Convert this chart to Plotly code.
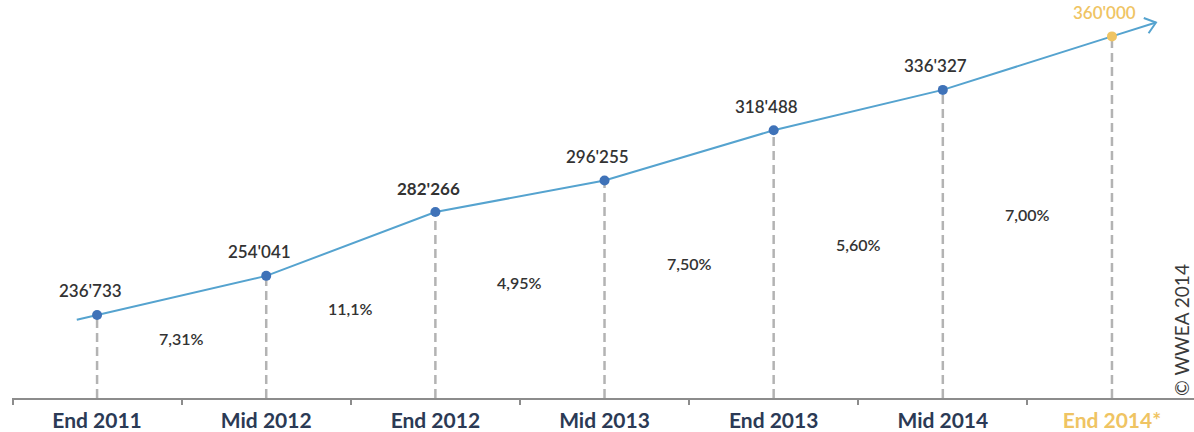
import math
import plotly.graph_objects as go

# Installed wind capacity (MW) at each reporting date
periods = ["End 2011", "Mid 2012", "End 2012", "Mid 2013", "End 2013", "Mid 2014", "End 2014*"]
capacity = [236733, 254041, 282266, 296255, 318488, 336327, 360000]
capacity_labels = ["236'733", "254'041", "282'266", "296'255", "318'488", "336'327", "360'000"]
# Growth rate between consecutive dates
growth_labels = ["7,31%", "11,1%", "4,95%", "7,50%", "5,60%", "7,00%"]
# Vertical placement of growth labels (fraction of plot height)
growth_label_y = [0.12, 0.195, 0.262, 0.337, 0.385, 0.46]

W, H = 1194, 432
M_L, M_R, M_T, M_B = 12, 0, 0, 34
X_RANGE = [-0.503, 6.485]
Y_RANGE = [200000, 376100]

LINE_BLUE = "#55A3CF"
DOT_BLUE = "#3F72B8"
GOLD = "#EFC463"
DASH_GREY = "#B3B3B3"
AXIS_GREY = "#8C8C8C"
TEXT_DARK = "#333333"
NAVY = "#2B3A55"

n = len(periods)
xs = list(range(n))
actual = n - 1  # last value is a forecast

plot_w = W - M_L - M_R
plot_h = H - M_T - M_B
px_per_x = plot_w / (X_RANGE[1] - X_RANGE[0])
px_per_y = plot_h / (Y_RANGE[1] - Y_RANGE[0])

# Trend line extended slightly beyond the first and last points
x_start = xs[0] - 0.12
y_start = capacity[0] - 0.12 * (capacity[1] - capacity[0])
x_end = xs[-1] + 0.26
y_end = capacity[-1] + 0.26 * (capacity[-1] - capacity[-2])

fig = go.Figure()

# Dashed drop lines from each point to the axis
for i in xs:
    fig.add_shape(type="line", x0=i, x1=i, y0=Y_RANGE[0], y1=capacity[i],
                  line=dict(color=DASH_GREY, width=2.5, dash="9px,5px"), layer="below")

fig.add_trace(go.Scatter(
    x=[x_start] + xs + [x_end], y=[y_start] + capacity + [y_end],
    mode="lines", line=dict(color=LINE_BLUE, width=2), hoverinfo="skip", showlegend=False))

# Open chevron arrowhead at the line end
dx_px = (x_end - xs[-1]) * px_per_x
dy_px = (y_end - capacity[-1]) * px_per_y
ang = math.atan2(dy_px, dx_px)
arm = 13
arms = []
for s in (1, -1):
    a = ang + math.pi + s * math.radians(38)
    arms.append((x_end + arm * math.cos(a) / px_per_x, y_end + arm * math.sin(a) / px_per_y))
chev_x = [arms[0][0], x_end, arms[1][0]]
chev_y = [arms[0][1], y_end, arms[1][1]]
fig.add_trace(go.Scatter(x=chev_x, y=chev_y, mode="lines",
                         line=dict(color=LINE_BLUE, width=2), hoverinfo="skip", showlegend=False))

fig.add_trace(go.Scatter(
    x=xs, y=capacity, mode="markers",
    marker=dict(size=10, color=[DOT_BLUE] * actual + [GOLD]),
    hoverinfo="skip", showlegend=False))

# Value labels above each point
for i in xs:
    fig.add_annotation(x=i, y=capacity[i], text=capacity_labels[i], showarrow=False,
                       yshift=24, xshift=-7,
                       font=dict(family="Lato", size=17, color=GOLD if i == actual else TEXT_DARK,
                                 weight="bold" if i == 2 else 600))

# Growth rates between dates
for i, (lab, gy) in enumerate(zip(growth_labels, growth_label_y)):
    fig.add_annotation(x=i + 0.5, y=gy, yref="paper", text=lab, showarrow=False,
                       font=dict(family="Lato", size=16, color=TEXT_DARK, weight=600))

# Copyright mark along the right edge
fig.add_annotation(x=(1181 - M_L) / plot_w, y=1 - 330 / plot_h, xref="paper", yref="paper",
                   xanchor="center", yanchor="middle",
                   text="© WWEA 2014", textangle=-90, showarrow=False,
                   font=dict(family="Lato", size=19, color="#3A3A3A"))

ticktext = [p if i < actual else f'<span style="color:{GOLD}">{p}</span>'
            for i, p in enumerate(periods)]

fig.update_layout(
    width=W, height=H,
    margin=dict(l=M_L, r=M_R, t=M_T, b=M_B),
    paper_bgcolor="white", plot_bgcolor="white",
    xaxis=dict(range=X_RANGE, tickvals=xs, ticktext=ticktext, ticks="",
               showgrid=False, zeroline=False, showline=True, linecolor=AXIS_GREY, linewidth=2,
               tickfont=dict(family="Lato", size=21, color=NAVY, weight="bold"),
               ticklabelstandoff=3,
               minor=dict(tick0=-0.5, dtick=1, ticks="outside", ticklen=5,
                          tickcolor=AXIS_GREY, tickwidth=1.5, showgrid=False)),
    yaxis=dict(range=Y_RANGE, visible=False, showgrid=False, zeroline=False),
)

fig.write_html("out.html")
